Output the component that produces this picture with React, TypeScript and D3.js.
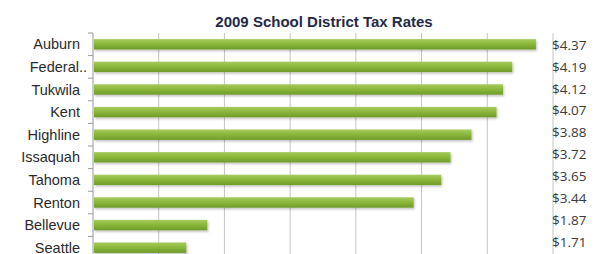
import React, { useRef, useEffect } from 'react';
import * as d3 from 'd3';

// chart values
const districts = ['Auburn', 'Federal..', 'Tukwila', 'Kent', 'Highline', 'Issaquah', 'Tahoma', 'Renton', 'Bellevue', 'Seattle'];
const rates = [4.37, 4.19, 4.12, 4.07, 3.88, 3.72, 3.65, 3.44, 1.87, 1.71];
const rateLabels = ['$4.37', '$4.19', '$4.12', '$4.07', '$3.88', '$3.72', '$3.65', '$3.44', '$1.87', '$1.71'];
const gridTicks = [1, 1.5, 2, 2.5, 3, 3.5, 4, 4.5];

const App = () => {
  const ref = useRef<SVGSVGElement | null>(null);

  useEffect(() => {
    document.body.style.margin = '0';
    document.body.style.overflow = 'hidden';

    const width = 602;
    const margin = { top: 33, left: 93, right: 49 };
    const plotBottom = 259;

    const svg = d3.select(ref.current);
    svg.selectAll('*').remove();

    const defs = svg.append('defs');
    const grad = defs.append('linearGradient')
      .attr('id', 'barGrad')
      .attr('x1', 0).attr('y1', 0).attr('x2', 0).attr('y2', 1);
    grad.append('stop').attr('offset', '0%').attr('stop-color', '#a6cb5e');
    grad.append('stop').attr('offset', '45%').attr('stop-color', '#8cb83c');
    grad.append('stop').attr('offset', '100%').attr('stop-color', '#6f9b2a');

    const filter = defs.append('filter').attr('id', 'shadow')
      .attr('x', '-5%').attr('y', '-50%').attr('width', '110%').attr('height', '200%');
    filter.append('feDropShadow')
      .attr('dx', 1).attr('dy', 1.5).attr('stdDeviation', 1.2)
      .attr('flood-color', '#000').attr('flood-opacity', 0.25);

    const x = d3.scaleLinear()
      .domain([1, 4.5])
      .range([margin.left, width - margin.right]);

    const y = d3.scaleBand()
      .domain(districts)
      .range([margin.top, plotBottom])
      .paddingInner(0.54)
      .paddingOuter(0.27);

    // label column on the right, slightly tighter than the bars
    const yLabel = d3.scalePoint()
      .domain(districts)
      .range([45, 242]);

    // title
    svg.append('text')
      .attr('x', 324)
      .attr('y', 27)
      .attr('text-anchor', 'middle')
      .style('font-family', 'Arial, "Liberation Sans", sans-serif')
      .style('font-size', '15px')
      .style('font-weight', 'bold')
      .style('fill', '#1f2a48')
      .text('2009 School District Tax Rates');

    // vertical gridlines
    svg.append('g')
      .selectAll('line')
      .data(gridTicks)
      .enter()
      .append('line')
      .attr('x1', d => x(d))
      .attr('x2', d => x(d))
      .attr('y1', margin.top)
      .attr('y2', plotBottom)
      .attr('stroke', d => (d === 1 ? '#9a9a9a' : '#c4c4c4'))
      .attr('stroke-width', 1);

    // left tick marks at band boundaries
    const boundaries = districts.map(d => (y(d) as number) - (y.step() * y.paddingInner()) / 2);
    svg.append('g')
      .selectAll('line')
      .data(boundaries)
      .enter()
      .append('line')
      .attr('x1', x(1) - 5)
      .attr('x2', x(1))
      .attr('y1', d => d)
      .attr('y2', d => d)
      .attr('stroke', '#9a9a9a');

    // bars
    svg.append('g')
      .selectAll('rect')
      .data(rates)
      .enter()
      .append('rect')
      .attr('x', x(1) + 1)
      .attr('y', (d, i) => y(districts[i]) as number)
      .attr('width', d => x(d) - x(1) - 1)
      .attr('height', y.bandwidth())
      .attr('fill', 'url(#barGrad)')
      .attr('filter', 'url(#shadow)');

    // category labels
    svg.append('g')
      .selectAll('text')
      .data(districts)
      .enter()
      .append('text')
      .attr('x', d => (d.endsWith('..') ? 87 : 80))
      .attr('y', d => (y(d) as number) + y.bandwidth() / 2)
      .attr('dy', '0.35em')
      .attr('text-anchor', 'end')
      .style('font-family', 'Arial, "Liberation Sans", sans-serif')
      .style('font-size', '14.5px')
      .style('fill', '#2a2a2a')
      .text(d => d);

    // value labels
    svg.append('g')
      .selectAll('text')
      .data(rateLabels)
      .enter()
      .append('text')
      .attr('x', 552)
      .attr('y', (d, i) => yLabel(districts[i]) as number)
      .attr('dy', '0.35em')
      .style('font-family', '"Open Sans", sans-serif')
      .style('font-size', '13.5px')
      .style('fill', '#3a3a3a')
      .text(d => d);
  }, []);

  return (
    <svg
      ref={ref}
      width={602}
      height={254}
      style={{ position: 'absolute', left: 0, top: 0, display: 'block', background: '#fff' }}
    />
  );
};

export default App;
